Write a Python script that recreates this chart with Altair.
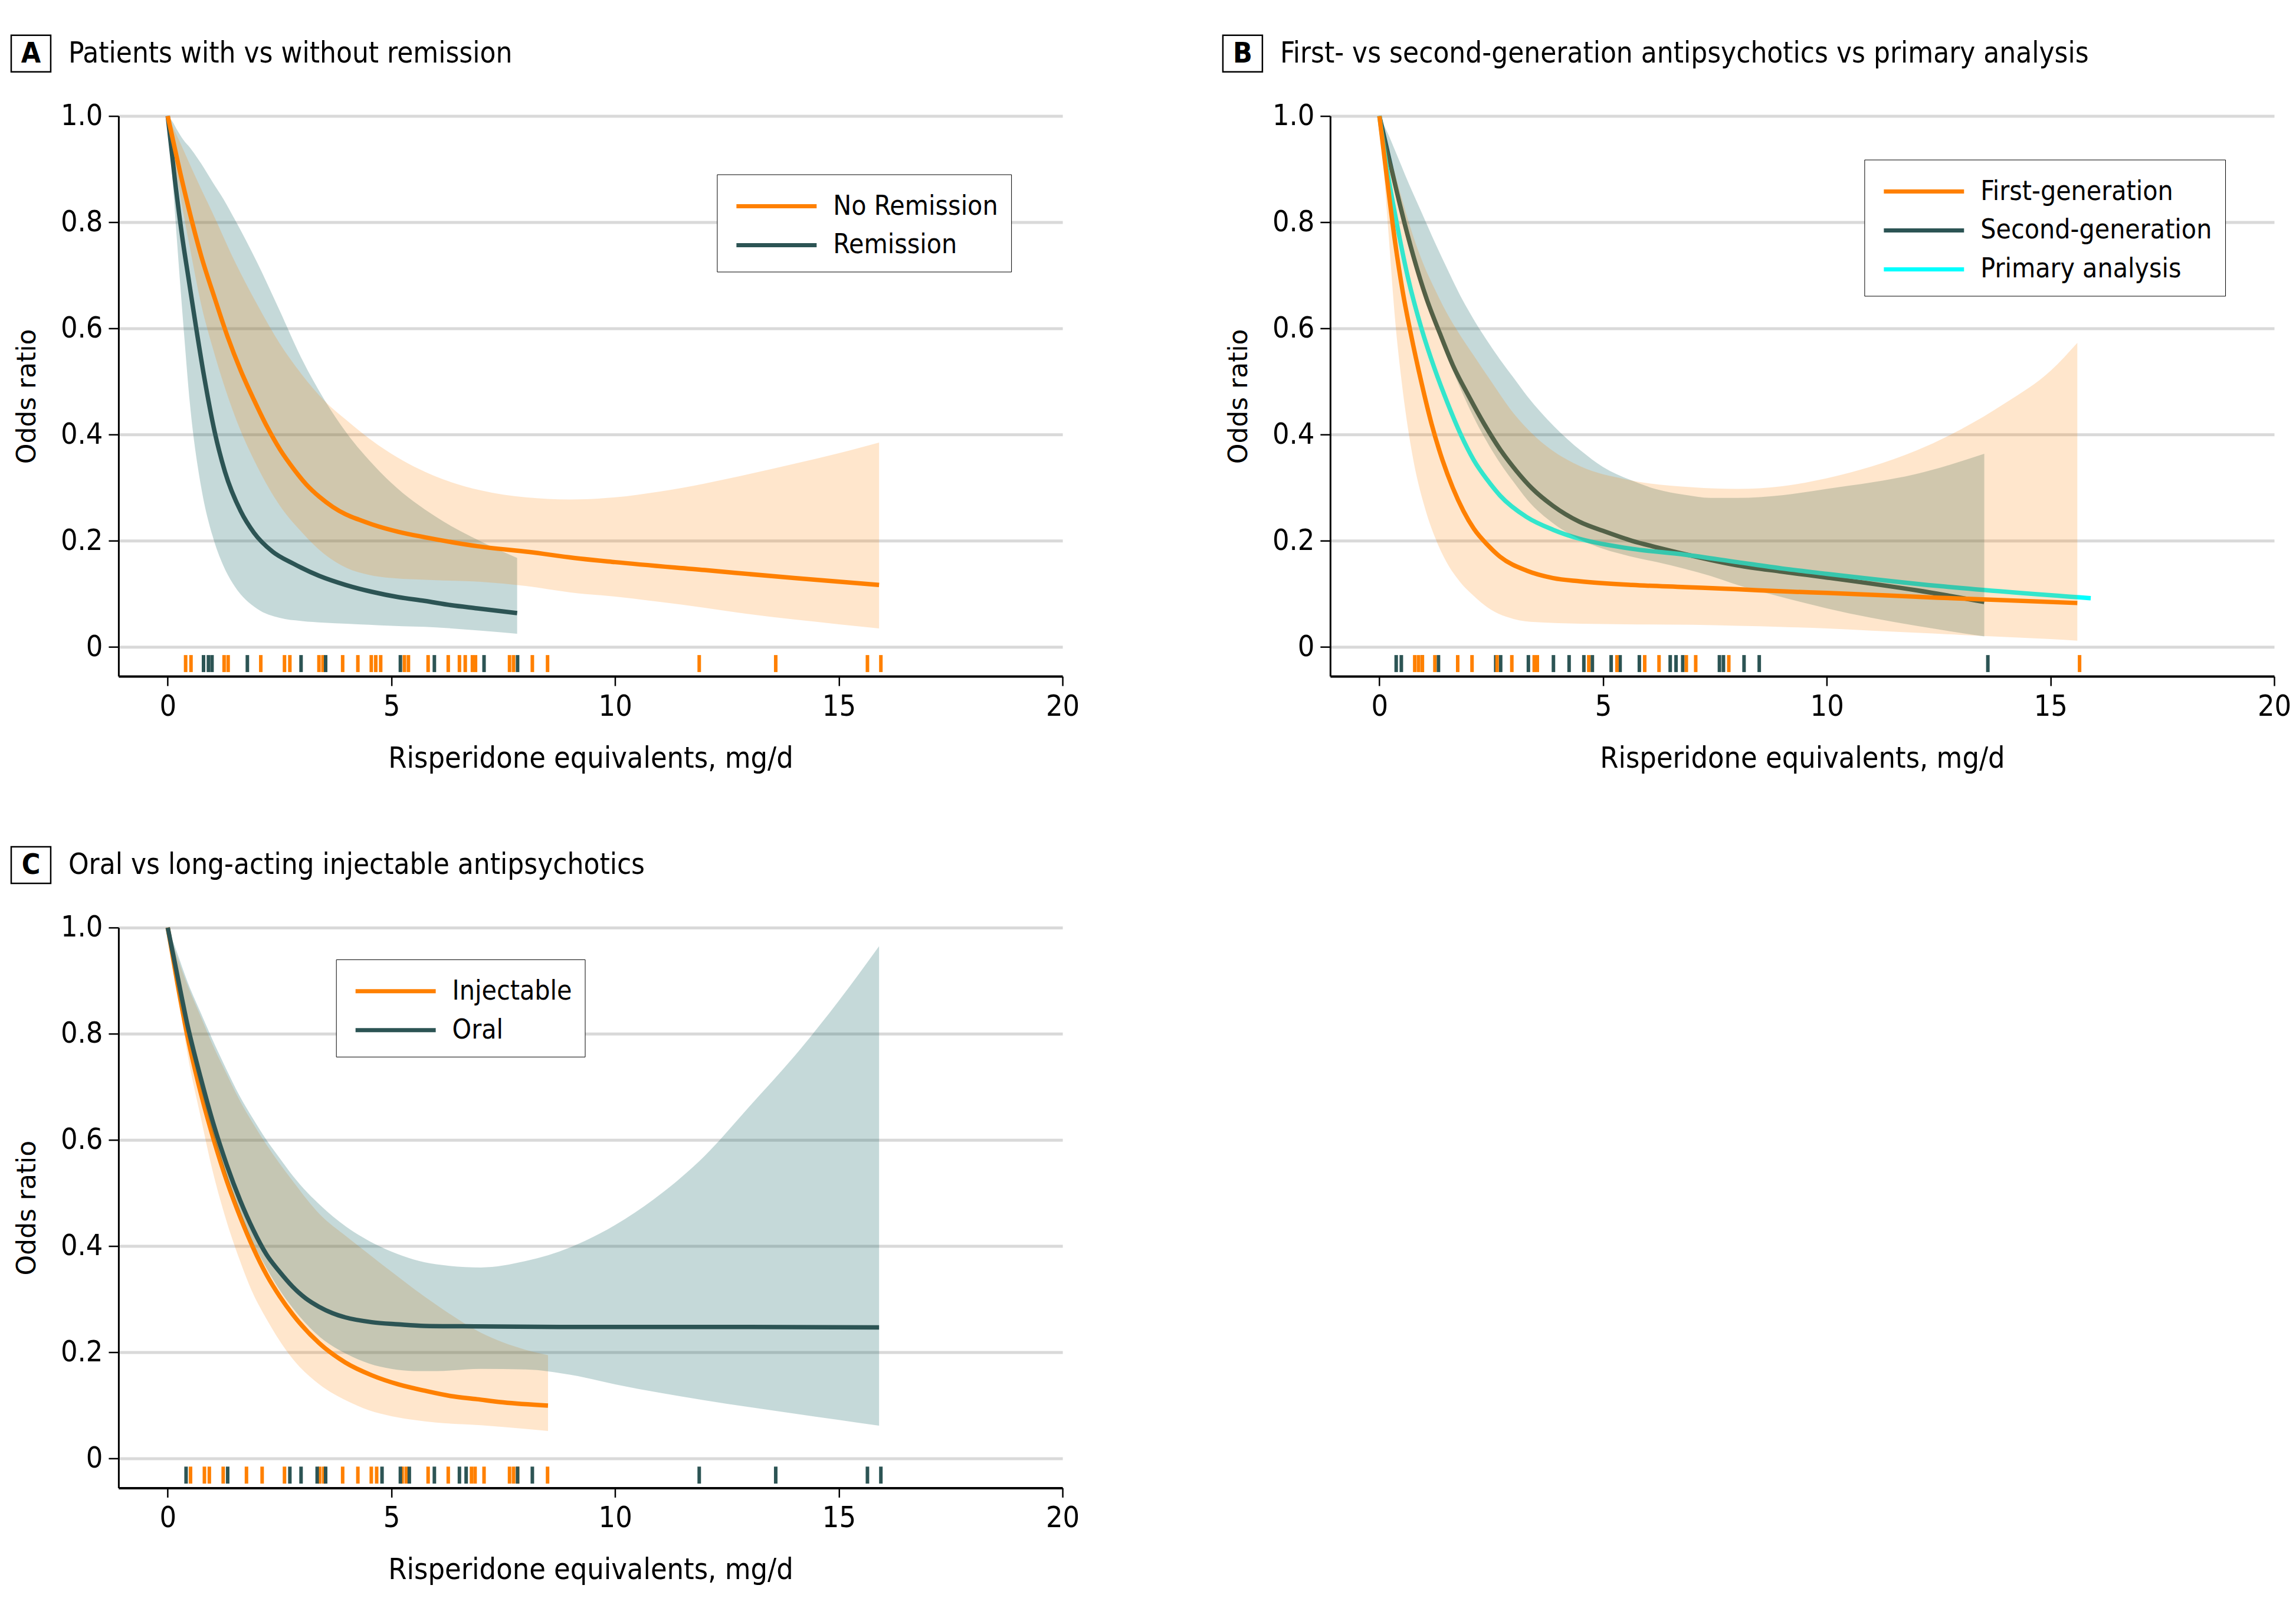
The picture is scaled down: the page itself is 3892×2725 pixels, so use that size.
import altair as alt
import pandas as pd

FONT = "Liberation Sans Narrow, DejaVu Sans Condensed, Roboto Condensed, Arial Narrow, sans-serif"
YFONT = "DejaVu Sans, Verdana, sans-serif"
ORANGE = "#FF8000"
TEAL = "#2C5454"
CYAN = "#00FFFF"
BAND_TEAL = "#176767"
BAND_ORANGE = "#FF8000"

# ---------------- Panel A: remission ----------------
a_rem_x = [0, 0.16, 0.34, 0.46, 0.63, 0.81, 1.05, 1.28, 1.63, 1.93, 2.34, 2.81, 3.39, 3.98, 4.57, 5.16, 5.74, 6.33, 6.92, 7.81]
a_rem_y = [1, 0.88, 0.763, 0.697, 0.604, 0.511, 0.405, 0.33, 0.256, 0.215, 0.18, 0.157, 0.134, 0.117, 0.104, 0.094, 0.087, 0.079, 0.073, 0.064]
a_rem_band_x = [0, 0.1, 0.2, 0.35, 0.5, 0.75, 1.0, 1.25, 1.5, 2.0, 2.5, 3.0, 3.5, 4.0, 4.5, 5.0, 6.0, 7.0, 7.81]
a_rem_lo = [1, 0.89, 0.773, 0.606, 0.455, 0.3, 0.21, 0.152, 0.114, 0.072, 0.055, 0.049, 0.046, 0.044, 0.042, 0.04, 0.037, 0.031, 0.025]
a_rem_hi = [1, 0.99, 0.975, 0.955, 0.94, 0.91, 0.876, 0.843, 0.805, 0.724, 0.634, 0.542, 0.466, 0.403, 0.352, 0.309, 0.245, 0.199, 0.168]

a_nor_x = [0, 0.22, 0.46, 0.75, 1.05, 1.34, 1.63, 1.93, 2.22, 2.51, 2.81, 3.1, 3.39, 3.69, 3.98, 4.27, 4.57, 5.16, 5.74, 6.92, 8.09, 9.08, 10, 12, 14, 15.9]
a_nor_y = [1, 0.915, 0.829, 0.736, 0.657, 0.584, 0.521, 0.465, 0.415, 0.372, 0.336, 0.306, 0.283, 0.264, 0.25, 0.24, 0.231, 0.217, 0.207, 0.19, 0.179, 0.168, 0.16, 0.145, 0.13, 0.117]
a_nor_band_x = [0, 0.25, 0.5, 0.75, 1.0, 1.5, 2.0, 2.5, 3.0, 3.5, 4.0, 4.5, 5.0, 6.0, 7.0, 8.0, 9.0, 10, 11, 12, 13, 14, 15, 15.9]
a_nor_lo = [1, 0.865, 0.75, 0.644, 0.565, 0.435, 0.34, 0.267, 0.216, 0.175, 0.149, 0.136, 0.13, 0.126, 0.123, 0.115, 0.103, 0.095, 0.085, 0.074, 0.062, 0.052, 0.043, 0.035]
a_nor_hi = [1, 0.955, 0.908, 0.862, 0.818, 0.726, 0.645, 0.572, 0.513, 0.464, 0.427, 0.393, 0.364, 0.321, 0.295, 0.282, 0.278, 0.282, 0.293, 0.308, 0.326, 0.345, 0.365, 0.385]

a_rug_nor = [0.40, 0.52, 1.26, 1.35, 2.08, 2.61, 2.73, 3.38, 3.47, 3.91, 4.25, 4.55, 4.65, 4.76, 5.29, 5.38, 5.82, 6.27, 6.52, 6.65, 6.81, 6.88, 7.64, 7.73, 8.15, 8.49, 11.88, 13.59, 15.64, 15.94]
a_rug_rem = [0.80, 0.91, 0.99, 1.78, 2.98, 3.53, 5.20, 5.96, 7.07, 7.82]

# ---------------- Panel B: generations ----------------
b_fg_x = [0, 0.17, 0.35, 0.52, 0.7, 0.94, 1.17, 1.41, 1.64, 1.88, 2.11, 2.41, 2.7, 3.29, 3.88, 4.47, 5.65, 6.83, 8.0, 9.0, 10, 12.5, 15.6]
b_fg_y = [1, 0.882, 0.763, 0.67, 0.591, 0.498, 0.419, 0.352, 0.3, 0.256, 0.223, 0.193, 0.17, 0.144, 0.13, 0.124, 0.117, 0.113, 0.109, 0.105, 0.102, 0.093, 0.083]
b_sg_x = [0, 0.23, 0.47, 0.76, 1.05, 1.35, 1.64, 2.0, 2.35, 2.7, 3.06, 3.41, 3.88, 4.47, 5.06, 5.65, 6.24, 6.83, 7.41, 8.0, 9.0, 10, 12, 13.52]
b_sg_y = [1, 0.915, 0.829, 0.736, 0.657, 0.591, 0.531, 0.472, 0.419, 0.372, 0.332, 0.299, 0.266, 0.236, 0.217, 0.2, 0.187, 0.175, 0.164, 0.154, 0.142, 0.131, 0.107, 0.085]
b_pa_x = [0, 0.17, 0.35, 0.64, 0.94, 1.23, 1.53, 1.82, 2.11, 2.41, 2.7, 3.29, 3.88, 4.47, 5.06, 5.65, 6.83, 8.0, 9.0, 10, 12.5, 15.9]
b_pa_y = [1, 0.9, 0.815, 0.695, 0.6, 0.525, 0.458, 0.4, 0.352, 0.315, 0.285, 0.245, 0.221, 0.204, 0.193, 0.185, 0.174, 0.16, 0.148, 0.138, 0.115, 0.092]

b_sg_band_x = [0, 0.2, 0.35, 0.65, 0.95, 1.25, 1.5, 1.8, 2.1, 2.4, 2.7, 3.0, 3.3, 3.9, 4.5, 5.0, 5.6, 6.2, 6.8, 7.4, 8.0, 9.0, 10, 11, 12, 13.52]
b_sg_hi = [1, 0.965, 0.935, 0.874, 0.817, 0.76, 0.715, 0.663, 0.618, 0.578, 0.541, 0.507, 0.473, 0.416, 0.37, 0.339, 0.315, 0.297, 0.287, 0.281, 0.281, 0.286, 0.298, 0.31, 0.326, 0.364]
b_sg_lo = [1, 0.917, 0.862, 0.76, 0.68, 0.606, 0.551, 0.489, 0.434, 0.387, 0.346, 0.311, 0.278, 0.232, 0.202, 0.185, 0.171, 0.16, 0.148, 0.134, 0.117, 0.094, 0.073, 0.055, 0.04, 0.02]

b_fg_band_x = [0, 0.1, 0.2, 0.35, 0.5, 0.75, 1.0, 1.25, 1.5, 1.8, 2.1, 2.5, 3.0, 3.5, 4.5, 5.5, 7.0, 8.0, 9.0, 10, 11, 12, 13, 14, 15, 15.6]
b_fg_lo = [1, 0.893, 0.783, 0.617, 0.498, 0.356, 0.267, 0.205, 0.16, 0.123, 0.097, 0.07, 0.053, 0.047, 0.044, 0.043, 0.042, 0.04, 0.038, 0.035, 0.031, 0.027, 0.023, 0.019, 0.015, 0.012]
b_fg_hi = [1, 0.97, 0.935, 0.89, 0.845, 0.775, 0.718, 0.672, 0.63, 0.588, 0.55, 0.5, 0.44, 0.395, 0.34, 0.316, 0.301, 0.298, 0.303, 0.318, 0.34, 0.37, 0.41, 0.46, 0.52, 0.573]

b_rug_sg = [0.375, 0.49, 0.96, 1.32, 2.6, 2.71, 3.33, 3.89, 4.24, 4.57, 4.76, 5.18, 5.38, 5.81, 6.5, 6.63, 6.78, 7.6, 7.69, 8.15, 8.49, 13.6]
b_rug_fg = [0.79, 0.875, 0.96, 1.24, 1.75, 2.07, 2.63, 2.96, 3.46, 3.53, 4.68, 5.31, 5.93, 6.25, 6.86, 7.07, 7.81, 15.65]

# ---------------- Panel C: oral vs injectable ----------------
c_inj_x = [0, 0.21, 0.44, 0.74, 1.03, 1.32, 1.62, 1.91, 2.21, 2.5, 2.79, 3.38, 3.97, 4.56, 5.15, 5.74, 6.32, 6.91, 7.5, 8.5]
c_inj_y = [1, 0.898, 0.796, 0.688, 0.6, 0.523, 0.455, 0.397, 0.346, 0.306, 0.272, 0.218, 0.181, 0.157, 0.14, 0.128, 0.118, 0.112, 0.106, 0.1]
c_oral_x = [0, 0.21, 0.44, 0.74, 1.03, 1.32, 1.62, 1.91, 2.21, 2.5, 2.79, 3.08, 3.38, 3.68, 3.97, 4.56, 5.15, 5.74, 6.91, 9.08, 12, 15.9]
c_oral_y = [1, 0.912, 0.817, 0.716, 0.628, 0.553, 0.486, 0.431, 0.384, 0.352, 0.324, 0.302, 0.286, 0.274, 0.266, 0.257, 0.253, 0.25, 0.249, 0.248, 0.248, 0.247]

c_oral_band_x = [0, 0.2, 0.45, 0.75, 1.0, 1.3, 1.6, 1.9, 2.2, 2.5, 2.8, 3.4, 4.0, 4.5, 5.0, 5.5, 6.0, 7.0, 8.0, 9.0, 10, 11, 12, 13, 14, 15, 15.9]
c_oral_hi = [1, 0.955, 0.896, 0.837, 0.789, 0.735, 0.684, 0.641, 0.601, 0.566, 0.532, 0.478, 0.436, 0.41, 0.39, 0.375, 0.366, 0.36, 0.372, 0.398, 0.44, 0.497, 0.57, 0.663, 0.757, 0.862, 0.965]
c_oral_lo = [1, 0.89, 0.793, 0.691, 0.614, 0.536, 0.468, 0.408, 0.36, 0.318, 0.283, 0.229, 0.197, 0.179, 0.169, 0.165, 0.165, 0.169, 0.168, 0.158, 0.14, 0.124, 0.11, 0.097, 0.085, 0.073, 0.062]

c_inj_band_x = [0, 0.15, 0.45, 0.75, 1.0, 1.3, 1.6, 1.9, 2.2, 2.8, 3.4, 4.0, 4.5, 5.0, 5.5, 6.0, 7.0, 8.0, 8.5]
c_inj_lo = [1, 0.92, 0.758, 0.638, 0.543, 0.451, 0.376, 0.312, 0.264, 0.187, 0.139, 0.109, 0.091, 0.08, 0.073, 0.068, 0.063, 0.056, 0.052]
c_inj_hi = [1, 0.96, 0.89, 0.83, 0.78, 0.727, 0.676, 0.632, 0.592, 0.522, 0.46, 0.418, 0.385, 0.352, 0.32, 0.29, 0.237, 0.205, 0.195]

c_rug_oral = [0.41, 1.34, 2.73, 2.98, 3.34, 3.53, 4.79, 5.2, 5.4, 5.96, 6.52, 6.67, 7.82, 8.15, 11.88, 13.59, 15.64, 15.94]
c_rug_inj = [0.51, 0.82, 0.93, 1.24, 1.76, 2.11, 2.61, 3.4, 3.49, 3.91, 4.25, 4.55, 4.67, 5.24, 5.33, 5.82, 6.27, 6.79, 6.87, 7.07, 7.64, 7.73, 7.82, 8.49]

x_ticks = [0, 5, 10, 15, 20]
y_ticks = [0, 0.2, 0.4, 0.6, 0.8, 1.0]

W, H = 1601, 950

xscale = alt.Scale(domain=[-1.1, 20], nice=False, zero=False)
yscale = alt.Scale(domain=[-0.055, 1.0], nice=False, zero=False)

x_axis = alt.Axis(values=x_ticks, grid=False, title="Risperidone equivalents, mg/d",
                  domainColor="black", domainWidth=4, tickColor="black", tickWidth=2.5,
                  tickSize=16, labelFontSize=50, labelPadding=10, titleFontSize=50,
                  titlePadding=38, labelFont=FONT, titleFont=FONT, titleFontWeight="normal",
                  labelColor="black", titleColor="black", labelFlush=False)
y_axis = alt.Axis(values=y_ticks, grid=True, gridColor="#d9d9d9", gridWidth=5,
                  title="Odds ratio", domainColor="black", domainWidth=3,
                  tickColor="black", tickWidth=2.5, tickSize=17, labelFontSize=50,
                  labelPadding=10, labelFont=FONT, titleFont=YFONT, titleFontSize=44,
                  titleFontWeight="normal", titlePadding=34, labelColor="black",
                  titleColor="black", labelFlush=False,
                  labelExpr="datum.value == 0 ? '0' : format(datum.value, '.1f')")

X = alt.X("x:Q", scale=xscale, axis=x_axis)
Y = alt.Y("y:Q", scale=yscale, axis=y_axis)


def line_df(x, y, name):
    return pd.DataFrame({"x": x, "y": y, "series": name})


def band_layer(x, lo, hi, color, opacity):
    df = pd.DataFrame({"x": x, "lo": lo, "hi": hi})
    return alt.Chart(df).mark_area(color=color, opacity=opacity, interpolate="monotone").encode(
        x=X, y=alt.Y("lo:Q", scale=yscale, axis=y_axis), y2="hi:Q")


def line_layer(df, color_enc):
    return alt.Chart(df).mark_line(strokeWidth=7.5, interpolate="monotone").encode(
        x=X, y=Y, color=color_enc)


def rug_layer(vals, color):
    df = pd.DataFrame({"x": vals})
    return alt.Chart(df).mark_rule(color=color, strokeWidth=6).encode(
        x=X, y=alt.datum(-0.015), y2=alt.datum(-0.047))


def deco_layers(letter, title):
    one = pd.DataFrame({"k": [0]})
    box = alt.Chart(one).mark_rect(filled=False, stroke="black", strokeWidth=2.5).encode(
        x=alt.value(-182), x2=alt.value(-115), y=alt.value(-137), y2=alt.value(-75))
    let = alt.Chart(one).mark_text(text=letter, font=FONT, fontSize=48, fontWeight="bold",
                                   align="center", baseline="middle", color="black").encode(
        x=alt.value(-148.5), y=alt.value(-105))
    ttl = alt.Chart(one).mark_text(text=title, font=FONT, fontSize=49, align="left",
                                   baseline="middle", color="black").encode(
        x=alt.value(-85), y=alt.value(-106))
    return [box, let, ttl]


def color_enc(domain, rng, lx, ly):
    return alt.Color("series:N", scale=alt.Scale(domain=domain, range=rng),
                     legend=alt.Legend(orient="none", legendX=lx, legendY=ly, title=None,
                                       symbolType="M-2.4,0H2.4", symbolSize=3211,
                                       symbolStrokeWidth=7, symbolOffset=47,
                                       labelOffset=64, labelFontSize=46, labelFont=FONT,
                                       labelColor="black", rowPadding=11, padding=22,
                                       strokeColor="black", fillColor="white",
                                       labelLimit=600))


# Panel A
a_dom = ["No Remission", "Remission"]
a_col = color_enc(a_dom, [ORANGE, TEAL], 1015, 99)
panel_a = alt.layer(
    band_layer(a_rem_band_x, a_rem_lo, a_rem_hi, BAND_TEAL, 0.25),
    band_layer(a_nor_band_x, a_nor_lo, a_nor_hi, BAND_ORANGE, 0.2),
    rug_layer(a_rug_nor, ORANGE),
    rug_layer(a_rug_rem, TEAL),
    line_layer(line_df(a_rem_x, a_rem_y, "Remission"), a_col),
    line_layer(line_df(a_nor_x, a_nor_y, "No Remission"), a_col),
    *deco_layers("A", "Patients with vs without remission"),
).properties(width=W, height=H)

# Panel B
b_dom = ["First-generation", "Second-generation", "Primary analysis"]
b_col = color_enc(b_dom, [ORANGE, TEAL, CYAN], 906, 74)
panel_b = alt.layer(
    line_layer(line_df(b_sg_x, b_sg_y, "Second-generation"), b_col),
    line_layer(line_df(b_pa_x, b_pa_y, "Primary analysis"), b_col),
    band_layer(b_sg_band_x, b_sg_lo, b_sg_hi, BAND_TEAL, 0.25),
    band_layer(b_fg_band_x, b_fg_lo, b_fg_hi, BAND_ORANGE, 0.2),
    rug_layer(b_rug_sg, TEAL),
    rug_layer(b_rug_fg, ORANGE),
    line_layer(line_df(b_fg_x, b_fg_y, "First-generation"), b_col),
    *deco_layers("B", "First- vs second-generation antipsychotics vs primary analysis"),
).properties(width=W, height=H)

# Panel C
c_dom = ["Injectable", "Oral"]
c_col = color_enc(c_dom, [ORANGE, TEAL], 369, 54)
panel_c = alt.layer(
    band_layer(c_inj_band_x, c_inj_lo, c_inj_hi, BAND_ORANGE, 0.2),
    line_layer(line_df(c_inj_x, c_inj_y, "Injectable"), c_col),
    band_layer(c_oral_band_x, c_oral_lo, c_oral_hi, BAND_TEAL, 0.25),
    rug_layer(c_rug_inj, ORANGE),
    rug_layer(c_rug_oral, TEAL),
    line_layer(line_df(c_oral_x, c_oral_y, "Oral"), c_col),
    *deco_layers("C", "Oral vs long-acting injectable antipsychotics"),
).properties(width=W, height=H)

top = alt.hconcat(panel_a, panel_b, spacing=241).resolve_scale(color="independent")
chart = alt.vconcat(top, panel_c, spacing=123).resolve_scale(color="independent").configure(
    padding={"left": 9, "top": 49, "right": 0, "bottom": 14},
    font=FONT,
    background="white",
).configure_view(stroke=None)

chart.save("out.html", embed_options={"renderer": "svg", "actions": False})
